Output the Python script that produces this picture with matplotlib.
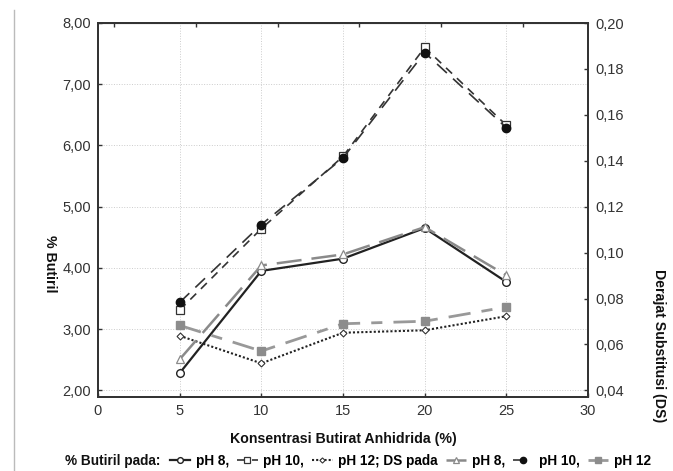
import numpy as np
import matplotlib
matplotlib.use("Agg")
import matplotlib.pyplot as plt
from matplotlib.lines import Line2D
from matplotlib.ticker import FuncFormatter

plt.rcParams['font.family'] = ['Liberation Sans', 'DejaVu Sans']

konsentrasi = [5, 10, 15, 20, 25]

# % Butiril
butiril_ph8 = [2.28, 3.95, 4.15, 4.65, 3.77]
butiril_ph10 = [3.31, 4.64, 5.82, 7.60, 6.33]
butiril_ph12 = [2.89, 2.44, 2.94, 2.98, 3.21]

# Derajat Substitusi
ds_ph8 = [0.0535, 0.0944, 0.0992, 0.1111, 0.0901]
ds_ph10 = [0.0783, 0.1122, 0.1412, 0.1871, 0.1544]
ds_ph12 = [0.0683, 0.0571, 0.0690, 0.0701, 0.0763]

fig = plt.figure(figsize=(6.73, 4.71), dpi=100)
ax = fig.add_axes([98/673, 1 - 397/471, 490/673, 374/471])
ax2 = ax.twinx()

tc = '#333333'

# left axis series
l_b8, = ax.plot(konsentrasi, butiril_ph8, color='#222222', lw=1.6, ls='-',
                marker='o', ms=5.5, mfc='white', mec='#222222', mew=1.0, zorder=5)
l_b10, = ax.plot(konsentrasi, butiril_ph10, color='#333333', lw=1.2, ls=(0, (5, 4)),
                 marker='s', ms=5.5, mfc='white', mec='#333333', mew=0.9, zorder=4)
l_b12, = ax.plot(konsentrasi, butiril_ph12, color='#222222', lw=1.5, ls=(0, (1, 1)),
                 marker='D', ms=3.5, mfc='white', mec='#333333', mew=0.8, zorder=4)

# right axis series
l_d8, = ax2.plot(konsentrasi, ds_ph8, color='#8a8a8a', lw=1.8, ls=(0, (10, 4)),
                 marker='^', ms=5.5, mfc='white', mec='#8a8a8a', mew=0.9, zorder=3)
l_d10, = ax2.plot(konsentrasi, ds_ph10, color='#333333', lw=1.2, ls=(0, (8, 5)),
                  marker='o', ms=6, mfc='#111111', mec='#111111', zorder=4)
l_d12, = ax2.plot(konsentrasi, ds_ph12, color='#999999', lw=2.0, ls=(0, (8, 4, 4, 4)),
                  marker='s', ms=6, mfc='#8c8c8c', mec='#8c8c8c', zorder=3)

ax.set_xlim(0, 30)
ax.set_ylim(1.89, 8.0)
ax2.set_ylim(0.0371, 0.20)
ax.set_xticks([0, 5, 10, 15, 20, 25, 30])
ax.set_yticks(np.arange(2, 8.01, 1))
ax2.set_yticks(np.arange(0.04, 0.2001, 0.02))
ax.yaxis.set_major_formatter(FuncFormatter(lambda v, p: f"{v:.2f}".replace('.', ',')))
ax2.yaxis.set_major_formatter(FuncFormatter(lambda v, p: f"{v:.2f}".replace('.', ',')))

ax.grid(True, color='#cccccc', ls=':', lw=0.7)
ax.set_axisbelow(True)

for a in (ax, ax2):
    for s in a.spines.values():
        s.set_color('#333333')
        s.set_linewidth(1.3)
    a.tick_params(direction='in', length=3, width=1, colors=tc, labelsize=10.5, pad=5)

top = ax.secondary_xaxis('top')
top.set_xticks([1, 6, 11, 16, 21, 26])
top.tick_params(direction='in', length=3, width=1, colors=tc, labeltop=False)

ax.set_xlabel('Konsentrasi Butirat Anhidrida (%)', fontsize=10.2, fontweight='bold',
              color='#111111', labelpad=10)
fig.text(50/673, 1 - 264/471, '% Butiril', rotation=270, fontsize=10.2, fontweight='bold',
         color='#111111', ha='center', va='center')
fig.text(659/673, 1 - 346/471, 'Derajat Substitusi (DS)', rotation=270, fontsize=10.2,
         fontweight='bold', color='#111111', ha='center', va='center')

# left border line of the page
fig.add_artist(Line2D([14/673, 14/673], [0, 1 - 10/471], color='#bbbbbb', lw=1.0))

fig.text(65/673, 1 - 461/471, '% Butiril pada:', fontsize=9.8, fontweight='bold',
         color='#111111', ha='left', va='center')
fig.legend([l_b8, l_b10, l_b12, l_d8, l_d10, l_d12],
           ['pH 8,', 'pH 10,', 'pH 12; DS pada', 'pH 8,', 'pH 10,', 'pH 12'],
           ncol=6, frameon=False, loc='center left', bbox_to_anchor=(170/673, 1 - 461/471),
           prop={'size': 9.8, 'weight': 'bold'}, handlelength=1.5, handletextpad=0.4,
           columnspacing=0.6, markerscale=0.75, borderpad=0, borderaxespad=0)

fig.savefig('out.png', dpi=100)
